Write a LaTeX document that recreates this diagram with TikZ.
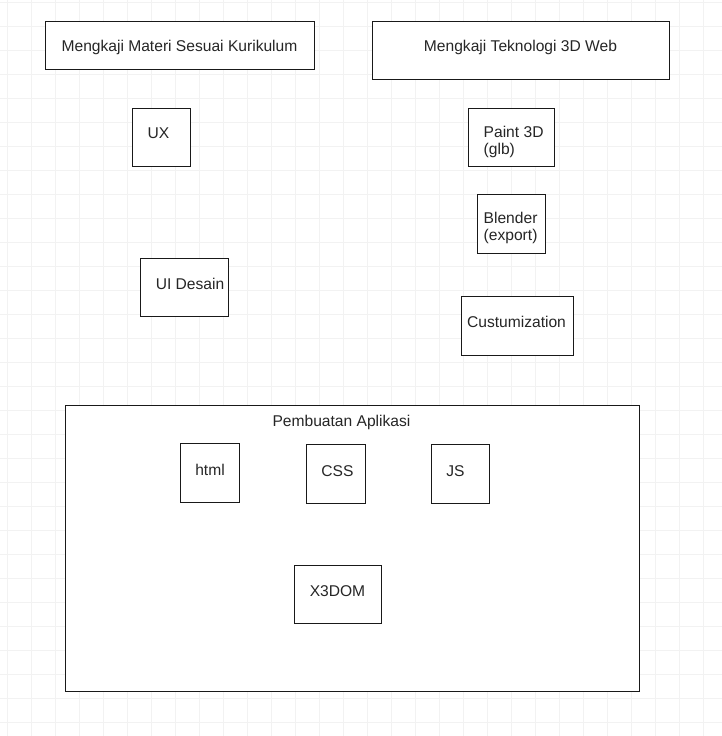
\documentclass[tikz,border=0pt]{standalone}
\usepackage{fontspec}
\setmainfont{Liberation Sans}
\begin{document}
\begin{tikzpicture}[x=1pt,y=-1pt,
  box/.style={draw=black!90,line width=1.3pt,fill=white,inner sep=0pt,anchor=north west},
  lbl/.style={inner sep=0pt,text=black!85,font=\fontsize{15.6}{17}\selectfont},
  gridline/.style={draw=black!5,line width=0.9pt}]
\useasboundingbox (0,0) rectangle (722,736);
\fill[white] (0,0) rectangle (722,736);
\foreach \i in {0,...,29} {\draw[gridline] (7.5+24*\i,0) -- (7.5+24*\i,736);}
\foreach \j in {0,...,30} {\draw[gridline] (0,2.5+24*\j) -- (722,2.5+24*\j);}
% boxes
\node[box,minimum width=269pt,minimum height=48pt] (materi) at (45,21) {};
\node[box,minimum width=297pt,minimum height=58pt] (tekno) at (372,21) {};
\node[box,minimum width=58pt,minimum height=58pt] (ux) at (132,108) {};
\node[box,minimum width=86pt,minimum height=58pt] (paint) at (468,108) {};
\node[box,minimum width=68pt,minimum height=59pt] (blender) at (477,194) {};
\node[box,minimum width=88pt,minimum height=58pt] (ui) at (140,258) {};
\node[box,minimum width=112pt,minimum height=59pt] (custom) at (461,296) {};
\node[box,minimum width=574pt,minimum height=286pt] (app) at (65,405) {};
\node[box,minimum width=59pt,minimum height=59pt] (html) at (180,443) {};
\node[box,minimum width=59pt,minimum height=59pt] (css) at (306,444) {};
\node[box,minimum width=58pt,minimum height=59pt] (js) at (431,444) {};
\node[box,minimum width=87pt,minimum height=58pt] (x3dom) at (294,565) {};
% labels
\node[lbl] (tmateri) at (179.5,47) {Mengkaji Materi Sesuai Kurikulum};
\node[lbl] (ttekno) at (520.5,47) {Mengkaji Teknologi 3D Web};
\node[lbl] (tux) at (158.5,133) {UX};
\node[lbl,align=left,anchor=west] (tpaint) at (483.5,141.5) {Paint 3D\\(glb)};
\node[lbl,align=left,anchor=west] (tblender) at (483.5,228) {Blender\\(export)};
\node[lbl] (tui) at (190,284) {UI Desain};
\node[lbl] (tcustom) at (516.5,322) {Custumization};
\node[lbl] (tapp) at (341.5,422) {Pembuatan Aplikasi};
\node[lbl] (thtml) at (210,470) {html};
\node[lbl] (tcss) at (337.5,471) {CSS};
\node[lbl] (tjs) at (455.5,471) {JS};
\node[lbl] (tx3dom) at (337.5,591) {X3DOM};
\end{tikzpicture}
\end{document}
